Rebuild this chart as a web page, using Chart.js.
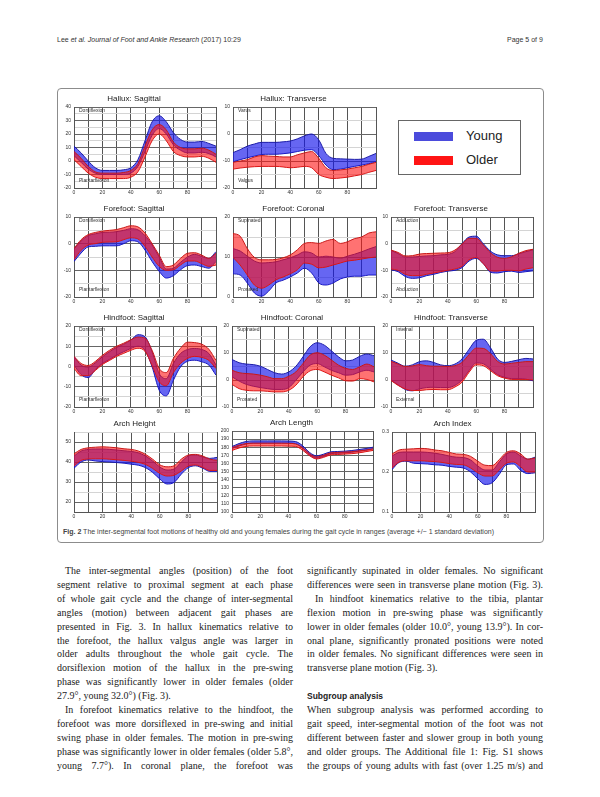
<!DOCTYPE html>
<html>
<head>
<meta charset="utf-8">
<script src="https://cdn.jsdelivr.net/npm/chart.js@4.4.1/dist/chart.umd.min.js"></script>
<style>
  body { margin: 0; background: #fff; }
  #page { position: relative; width: 600px; height: 797px; overflow: hidden; background: #fff; font-family: "Liberation Sans", Arial, sans-serif; }
  #page canvas { position: absolute; }
  .hdr { position: absolute; top: 36px; font-size: 7px; color: #333; white-space: nowrap; }
  .fig { position: absolute; left: 57px; top: 88px; width: 485px; height: 453px; border: 1px solid #8c8c8c; border-radius: 4px; }
  .cap { position: absolute; left: 63px; top: 528px; font-size: 7px; color: #444; white-space: nowrap; }
  .legend { position: absolute; left: 398px; top: 120px; width: 121px; height: 53px; border: 1px solid #666; background: #fff; }
  .sw { position: absolute; left: 15px; width: 39px; height: 9px; }
  .lt { position: absolute; left: 67px; font-size: 13px; color: #222; line-height: 14px; }
  .line { position: absolute; display: inline-block; height: 14px; line-height: 14px; font-family: "Liberation Serif", serif; font-size: 10px; color: #222; white-space: nowrap; }
  .head { position: absolute; font-family: "Liberation Sans", Arial, sans-serif; font-weight: bold; font-size: 8.5px; color: #222; white-space: nowrap; }
</style>
</head>
<body>
<div id="page">
  <div class="hdr" style="left:57px">Lee <i>et al. Journal of Foot and Ankle Research</i> (2017) 10:29</div>
  <div class="hdr" style="left:507px">Page 5 of 9</div>
  <div class="fig"></div>
  <div class="cap"><b>Fig. 2</b> The inter-segmental foot motions of healthy old and young females during the gait cycle in ranges (average +/− 1 standard deviation)</div>
  <div class="legend">
    <div class="sw" style="top:11px;background:#4b4bdc"></div>
    <div class="lt" style="top:8px">Young</div>
    <div class="sw" style="top:35px;background:#ff1414"></div>
    <div class="lt" style="top:32px">Older</div>
  </div>
</div>
<script>
// gait cycle (%)
const gaitPct = [0, 5, 10, 15, 20, 25, 30, 35, 40, 45, 50, 55, 60, 65, 70, 75, 80, 85, 90, 95, 100];

// Hallux: Sagittal
const halluxSagYoungHi = [11, 6, 0, -5, -7, -7, -7, -6.5, -5, 1, 15, 29, 33.5, 29, 21, 16, 14, 14, 14.5, 13, 11];
const halluxSagYoungLo = [4, -1, -6, -9, -10, -10, -10, -10, -9, -4, 7, 19, 24, 20, 12, 8, 6, 6, 6.5, 5.5, 3];
const halluxSagOlderHi = [7, 2, -4, -8, -9, -9, -9, -8.5, -7, -2, 11, 23, 27, 23, 14, 10, 9, 9, 9.5, 8, 5];
const halluxSagOlderLo = [1, -4, -9, -12, -13, -13, -13, -13, -12, -8, 3, 15, 20, 15, 7, 4, 3, 3, 3.5, 2, -1];

// Hallux: Transverse
const halluxTrnYoungHi = [-6.9, -5.8, -4.5, -3.7, -3.1, -3.1, -3.1, -2.9, -2.6, -1.8, -0.7, 0, -2.2, -7.2, -9, -9.2, -9.3, -9.4, -9.3, -8.3, -7.2];
const halluxTrnYoungLo = [-10.3, -9.5, -8.8, -8.2, -7.6, -7.5, -7.5, -7.3, -7, -6.5, -6, -5.8, -8, -11.5, -13.2, -13, -12.5, -12, -11.5, -11, -10.2];
const halluxTrnOlderHi = [-10.5, -10, -9.5, -8.5, -8, -8.2, -8.3, -8.5, -8.5, -7.7, -7, -6.5, -9, -12.5, -13.5, -13.3, -13, -12.5, -12, -11.2, -10.5];
const halluxTrnOlderLo = [-13, -12.6, -12.3, -12.1, -12, -12, -12, -12.2, -12.5, -12.3, -12, -12.5, -15, -16, -16.5, -16.3, -16, -15.5, -15, -14.2, -13.5];

// Forefoot: Sagittal
const foreSagYoungHi = [-2, 1, 3, 3.7, 4.2, 4.3, 4.5, 5, 5.6, 5.2, 3, -0.5, -5, -9.5, -9.2, -7, -5, -4, -4.8, -5.5, -3];
const foreSagYoungLo = [-6.7, -3.5, -1.2, -1, -0.8, -0.8, -0.8, 0, 1.1, 0.7, -2.4, -6.7, -10.4, -12.9, -12, -9.8, -8.2, -8, -8.6, -9.2, -6.7];
const foreSagOlderHi = [-1.8, 1.5, 3.4, 4.2, 4.7, 5, 5.3, 6, 6.7, 6.3, 4, 0, -4.3, -8.6, -8, -5.5, -3.6, -3.4, -4.3, -5.5, -3.6];
const foreSagOlderLo = [-6, -2.5, -0.5, 0, 0.5, 0.6, 0.7, 1.5, 2.2, 1.8, -1, -5, -8.5, -10, -9.8, -8, -6.5, -6.5, -7.5, -8.5, -8];

// Forefoot: Coronal
const foreCorYoungHi = [12.1, 11.5, 10.2, 9, 8.5, 8.6, 8.8, 9.3, 9.8, 10.5, 11.3, 11, 10, 10.2, 10, 9.7, 10.2, 10.7, 11.3, 12, 12.6];
const foreCorYoungLo = [5.8, 5.5, 3.5, 1, 0.2, 1.5, 3.5, 4.2, 5, 6, 7.2, 6, 3.5, 3, 3.5, 4.5, 5, 5.2, 5.2, 5.5, 5.5];
const foreCorOlderHi = [15.9, 15.2, 12.1, 9.9, 9.3, 9.3, 9.4, 9.8, 10.5, 11.8, 13.4, 13.6, 13.4, 14, 14.4, 13.4, 13.8, 14.6, 15, 16, 16.3];
const foreCorOlderLo = [9.9, 8, 5.5, 3, 2.2, 3, 4.3, 5, 5.8, 6.8, 8.5, 8.2, 7.3, 7.5, 8, 8.5, 9, 9.2, 9.5, 9.8, 10];

// Forefoot: Transverse
const foreTrnYoungHi = [-2.5, -3.7, -5, -5, -4.8, -4.6, -4.5, -4.2, -4, -3, 0, 2.5, 2.8, 0, -2.8, -4.2, -4.5, -4.5, -3.8, -3, -2.3];
const foreTrnYoungLo = [-9.8, -10.5, -12.3, -13, -12.8, -12, -11.5, -10.8, -10.3, -10, -9, -6.5, -5.5, -7.5, -10.7, -11, -10.5, -10.3, -10.8, -10.5, -10.2];
const foreTrnOlderHi = [-2.4, -3.3, -4.6, -4.5, -3.9, -3.7, -3.6, -3.5, -3.4, -2.4, -0.2, 2, 2, -0.5, -3.4, -5.1, -5.5, -4.9, -3.6, -2.6, -2.1];
const foreTrnOlderLo = [-9.5, -10, -11.5, -12, -12, -11.5, -11, -10.5, -10, -9.5, -8.5, -6, -5.2, -7.5, -10.2, -10.3, -10, -10, -10.2, -9.5, -9];

// Hindfoot: Sagittal
const hindSagYoungHi = [4.8, 0.7, -0.3, 1.8, 4.8, 7.3, 9.4, 11, 13, 15.7, 14.7, 7.3, -3.5, -6, 1.5, 6.4, 8.4, 8.9, 8.4, 6.4, 0.7];
const hindSagYoungLo = [0.7, -4, -5.5, -1.5, 1.5, 3.5, 5.6, 7.3, 8.9, 10, 8, -0.2, -11.7, -14.5, -6.8, -0.2, 2.6, 3.1, 2.3, 0.7, -4.3];
const hindSagOlderHi = [5, 1.5, 0.5, 2.5, 5.5, 8, 10, 11.5, 13.2, 14.5, 14, 8, -1, -3, 4, 9, 12, 11.8, 11, 8.5, 3];
const hindSagOlderLo = [-1, -4.5, -4.5, -2, 1, 3, 5, 6.5, 8, 9, 7.5, 0.5, -7.5, -9.5, -3, 1.5, 4, 5, 4.5, 3, -1];

// Hindfoot: Coronal
const hindCorYoungHi = [7.6, 6.4, 5.9, 5.7, 5.1, 3.9, 2.7, 2.2, 3, 5.1, 8.6, 12.3, 13.8, 12.9, 10.8, 8.6, 7.1, 7.4, 8.8, 9.6, 9];
const hindCorYoungLo = [1.2, -0.4, -1.6, -2.3, -2.8, -3.2, -3.5, -3.5, -2.8, -0.1, 3, 5.5, 6.1, 4.9, 3.6, 2.7, 1.8, 2, 3, 3.6, 3];
const hindCorOlderHi = [3.6, 2.7, 2.4, 2.2, 1.8, 1.2, 0.5, 0.5, 1.4, 3, 6.1, 9.2, 10.1, 9.2, 7.4, 5.5, 4.3, 3.9, 4.9, 5.9, 4.9];
const hindCorOlderLo = [-1.6, -3.2, -3.8, -4, -4, -4.2, -4.4, -4.4, -3.8, -1.9, 1.2, 3.4, 3.9, 3, 1.8, 0.8, -0.3, -0.4, 0.5, 0.2, -0.7];

// Hindfoot: Transverse
const hindTrnYoungHi = [7.4, 6.2, 5.1, 5.6, 6.8, 7.1, 6.5, 5.6, 5.3, 5.9, 7.8, 11.4, 14.7, 15.1, 12, 7.8, 6.5, 6.9, 7.5, 8, 7.8];
const hindTrnYoungLo = [0, -1.8, -3.5, -4, -3.3, -2.8, -2.7, -2.8, -2.8, -2, 0, 3.5, 6.3, 6, 4, 2, 1, 0.5, 0.5, 0.3, -0.3];
const hindTrnOlderHi = [6.9, 5.9, 5, 5.2, 5.7, 5.3, 5.1, 5.1, 5, 5.3, 6.5, 9.4, 11.8, 11.7, 9.8, 6.9, 5.9, 6.2, 6.5, 6.8, 6.8];
const hindTrnOlderLo = [-0.2, -2, -3.3, -3.9, -3.9, -3.6, -3.5, -3.6, -3.6, -2.6, -0.8, 2.9, 5.6, 5.3, 3.5, 1.6, 0.7, 0.2, 0.2, 0.2, 0];

// Arch Height
const archHgtYoungHi = [43, 45.5, 46.3, 46.5, 46.5, 46.3, 46, 45.6, 45.3, 44.6, 43, 40.5, 37.5, 36, 36.5, 40, 43, 43.5, 42.5, 41.8, 42.3];
const archHgtYoungLo = [36.9, 40, 41, 40.5, 40.2, 40, 39.7, 39.4, 38.9, 38.4, 37.2, 34.8, 31.5, 29, 29.8, 33.9, 37.2, 38.1, 36.9, 35.3, 35.3];
const archHgtOlderHi = [44.1, 46.3, 47.1, 47.4, 47.6, 47.4, 47.1, 46.6, 46.3, 45.5, 43.8, 41.4, 38.6, 37.6, 38.1, 41.4, 43.5, 43.8, 43, 41.4, 40.9];
const archHgtOlderLo = [38, 40.8, 41.5, 41.6, 41.6, 41.4, 41.1, 40.8, 40.4, 39.8, 38.8, 36.8, 34.3, 33, 33.4, 35.5, 38, 38.5, 37.3, 35.8, 35.8];

// Arch Length
const archLenYoungHi = [180.8, 184.5, 187, 187.8, 187.8, 187.8, 187.8, 187.8, 187.6, 187, 182, 173.5, 169.4, 171.4, 174.3, 174.7, 175.1, 175.9, 177.1, 178.4, 180];
const archLenYoungLo = [178.5, 181.5, 184, 185, 185, 185, 185, 185, 185, 184.5, 179, 170.5, 166.5, 168.5, 172, 172.5, 173, 173.8, 175, 176.3, 178];
const archLenOlderHi = [179.5, 182.5, 184.5, 185, 185, 185, 185, 185, 184.8, 184, 179.5, 172, 168, 170, 173, 173.5, 174, 174.5, 175.5, 176.5, 178];
const archLenOlderLo = [176, 179, 181, 181.5, 181.5, 181.5, 181.5, 181.5, 181.3, 181, 176.5, 169.5, 165.5, 167.5, 170.5, 171, 171.5, 172, 173, 174.5, 176];

// Arch Index
const archIdxYoungHi = [0.24, 0.249, 0.25, 0.25, 0.25, 0.249, 0.247, 0.244, 0.24, 0.237, 0.236, 0.23, 0.215, 0.205, 0.205, 0.225, 0.245, 0.25, 0.24, 0.232, 0.237];
const archIdxYoungLo = [0.206, 0.224, 0.227, 0.222, 0.221, 0.22, 0.218, 0.217, 0.214, 0.212, 0.21, 0.2, 0.183, 0.169, 0.173, 0.194, 0.218, 0.22, 0.204, 0.196, 0.198];
const archIdxOlderHi = [0.245, 0.255, 0.257, 0.258, 0.259, 0.258, 0.255, 0.253, 0.249, 0.245, 0.244, 0.239, 0.227, 0.217, 0.216, 0.231, 0.249, 0.253, 0.245, 0.232, 0.235];
const archIdxOlderLo = [0.21, 0.225, 0.228, 0.228, 0.228, 0.227, 0.226, 0.224, 0.221, 0.219, 0.218, 0.21, 0.198, 0.19, 0.19, 0.205, 0.222, 0.225, 0.213, 0.2, 0.2];

const youngFill = 'rgba(20,20,235,0.65)';
const youngLine = '#1c1ca8';
const olderFill = 'rgba(255,20,20,0.6)';
const olderLine = '#c81818';

// plot area of every panel: [left, top, right, bottom]
const panels = [
  { title: 'Hallux: Sagittal', y: [halluxSagYoungHi, halluxSagYoungLo, halluxSagOlderHi, halluxSagOlderLo], min: -20, max: 40, major: 10, minor: 5, hi: 'Dorsiflexion', lo: 'Plantarflexion', box: [74, 107, 216, 188] },
  { title: 'Hallux: Transverse', y: [halluxTrnYoungHi, halluxTrnYoungLo, halluxTrnOlderHi, halluxTrnOlderLo], min: -20, max: 10, major: 10, minor: 5, hi: 'Varus', lo: 'Valgus', box: [233, 107, 376, 188] },
  { title: 'Forefoot: Sagittal', y: [foreSagYoungHi, foreSagYoungLo, foreSagOlderHi, foreSagOlderLo], min: -20, max: 10, major: 10, minor: 5, hi: 'Dorsiflexion', lo: 'Plantarflexion', box: [74, 217, 216, 297] },
  { title: 'Forefoot: Coronal', y: [foreCorYoungHi, foreCorYoungLo, foreCorOlderHi, foreCorOlderLo], min: 0, max: 20, major: 10, minor: 5, hi: 'Supinated', lo: 'Pronated', box: [233, 217, 376, 297] },
  { title: 'Forefoot: Transverse', y: [foreTrnYoungHi, foreTrnYoungLo, foreTrnOlderHi, foreTrnOlderLo], min: -20, max: 10, major: 10, minor: 5, hi: 'Adduction', lo: 'Abduction', box: [391, 217, 533, 297] },
  { title: 'Hindfoot: Sagittal', y: [hindSagYoungHi, hindSagYoungLo, hindSagOlderHi, hindSagOlderLo], min: -20, max: 20, major: 10, minor: 5, hi: 'Dorsiflexion', lo: 'Plantarflexion', box: [74, 326, 216, 407] },
  { title: 'Hindfoot: Coronal', y: [hindCorYoungHi, hindCorYoungLo, hindCorOlderHi, hindCorOlderLo], min: -10, max: 20, major: 10, minor: 5, hi: 'Supinated', lo: 'Pronated', box: [232, 326, 374, 407] },
  { title: 'Hindfoot: Transverse', y: [hindTrnYoungHi, hindTrnYoungLo, hindTrnOlderHi, hindTrnOlderLo], min: -10, max: 20, major: 10, minor: 5, hi: 'Internal', lo: 'External', box: [391, 326, 533, 407] },
  { title: 'Arch Height', y: [archHgtYoungHi, archHgtYoungLo, archHgtOlderHi, archHgtOlderLo], min: 15, max: 55, major: 10, minor: 5, box: [74, 432, 217, 512] },
  { title: 'Arch Length', y: [archLenYoungHi, archLenYoungLo, archLenOlderHi, archLenOlderLo], min: 100, max: 200, major: 10, minor: 10, box: [232, 431, 373, 512] },
  { title: 'Arch Index', y: [archIdxYoungHi, archIdxYoungLo, archIdxOlderHi, archIdxOlderLo], min: 0.1, max: 0.3, major: 0.1, minor: 0.05, box: [392, 432, 535, 512] }
];

// small direction labels inside the plot (Dorsiflexion / Plantarflexion ...)
const sideLabels = {
  id: 'sideLabels',
  afterDatasetsDraw(chart, args, opts) {
    if (!opts.hi) return;
    const { left, top, bottom } = chart.chartArea;
    const ctx = chart.ctx;
    ctx.save();
    ctx.font = '5px "Liberation Sans", Arial, sans-serif';
    ctx.fillStyle = '#333';
    ctx.textBaseline = 'middle';
    ctx.fillText(opts.hi, left + 5, top + 4);
    ctx.fillText(opts.lo, left + 5, bottom - 7);
    ctx.restore();
  }
};

const page = document.getElementById('page');
const toPts = arr => gaitPct.map((x, i) => ({ x: x, y: arr[i] }));

panels.forEach(p => {
  const [L, T, R, B] = p.box;
  const padL = 22, padT = 15, padR = 6, padB = 10;
  const w = (R - L) + padL + padR, h = (B - T) + padT + padB;
  const cv = document.createElement('canvas');
  cv.width = w; cv.height = h;
  cv.style.left = (L - padL) + 'px';
  cv.style.top = (T - padT) + 'px';
  cv.style.width = w + 'px';
  cv.style.height = h + 'px';
  page.appendChild(cv);

  const isMajor = v => Math.abs(v / p.major - Math.round(v / p.major)) < 1e-6;
  const line = { pointRadius: 0, borderWidth: 1, cubicInterpolationMode: 'monotone' };

  new Chart(cv, {
    type: 'line',
    data: {
      datasets: [
        Object.assign({ data: toPts(p.y[2]), borderColor: olderLine, backgroundColor: olderFill, fill: '+1', order: 1 }, line),
        Object.assign({ data: toPts(p.y[3]), borderColor: olderLine, fill: false, order: 1 }, line),
        Object.assign({ data: toPts(p.y[0]), borderColor: youngLine, backgroundColor: youngFill, fill: '+1', order: 2 }, line),
        Object.assign({ data: toPts(p.y[1]), borderColor: youngLine, fill: false, order: 2 }, line)
      ]
    },
    options: {
      responsive: false,
      animation: false,
      devicePixelRatio: 1,
      layout: { padding: { left: 0, right: padR, top: 0, bottom: 0 } },
      plugins: {
        legend: { display: false },
        tooltip: { enabled: false },
        title: {
          display: true, text: p.title, color: '#222',
          font: { family: '"Liberation Sans", Arial, sans-serif', size: 8, weight: 'normal', lineHeight: 1.25 },
          padding: { top: 2, bottom: 3 }
        },
        sideLabels: { hi: p.hi, lo: p.lo }
      },
      scales: {
        x: {
          type: 'linear', min: 0, max: 100,
          afterFit: s => { s.height = padB; },
          border: { color: '#555' },
          grid: { color: '#555', drawTicks: false },
          ticks: {
            stepSize: 10, autoSkip: false, maxRotation: 0, padding: 2, color: '#333',
            font: { family: '"Liberation Sans", Arial, sans-serif', size: 5 },
            callback: v => (v % 20 === 0 && v < 100) ? v : ''
          }
        },
        y: {
          min: p.min, max: p.max,
          afterFit: s => { s.width = padL; },
          border: { color: '#555' },
          grid: { color: c => isMajor(c.tick.value) ? '#666' : '#d4d4d4', drawTicks: false },
          ticks: {
            stepSize: p.minor, autoSkip: false, padding: 3, color: '#333',
            font: { family: '"Liberation Sans", Arial, sans-serif', size: 5 },
            callback: v => isMajor(v) ? String(Number(v.toFixed(2))) : ''
          }
        }
      }
    },
    plugins: [sideLabels]
  });
});

// body text, one div per printed line
const leftLines = [
  ['The inter-segmental angles (position) of the foot', 1, 1],
  ['segment relative to proximal segment at each phase', 0, 1],
  ['of whole gait cycle and the change of inter-segmental', 0, 1],
  ['angles (motion) between adjacent gait phases are', 0, 1],
  ['presented in Fig. 3. In hallux kinematics relative to', 0, 1],
  ['the forefoot, the hallux valgus angle was larger in', 0, 1],
  ['older adults throughout the whole gait cycle. The', 0, 1],
  ['dorsiflexion motion of the hallux in the pre-swing', 0, 1],
  ['phase was significantly lower in older females (older', 0, 1],
  ['27.9°, young 32.0°) (Fig. 3).', 0, 0],
  ['In forefoot kinematics relative to the hindfoot, the', 1, 1],
  ['forefoot was more dorsiflexed in pre-swing and initial', 0, 1],
  ['swing phase in older females. The motion in pre-swing', 0, 1],
  ['phase was significantly lower in older females (older 5.8°,', 0, 1],
  ['young 7.7°). In coronal plane, the forefoot was', 0, 1]
];
const rightLines = [
  ['significantly supinated in older females. No significant', 0, 1],
  ['differences were seen in transverse plane motion (Fig. 3).', 0, 1],
  ['In hindfoot kinematics relative to the tibia, plantar', 1, 1],
  ['flexion motion in pre-swing phase was significantly', 0, 1],
  ['lower in older females (older 10.0°, young 13.9°). In cor-', 0, 1],
  ['onal plane, significantly pronated positions were noted', 0, 1],
  ['in older females. No significant differences were seen in', 0, 1],
  ['transverse plane motion (Fig. 3).', 0, 0],
  null,
  null,
  ['When subgroup analysis was performed according to', 0, 1],
  ['gait speed, inter-segmental motion of the foot was not', 0, 1],
  ['different between faster and slower group in both young', 0, 1],
  ['and older groups. The Additional file 1: Fig. S1 shows', 0, 1],
  ['the groups of young adults with fast (over 1.25 m/s) and', 0, 1]
];

function placeLines(lines, x0) {
  lines.forEach((ln, i) => {
    if (!ln) return;
    const [txt, indent, just] = ln;
    const d = document.createElement('div');
    d.className = 'line';
    d.textContent = txt;
    const ind = indent ? 8 : 0;
    d.style.left = (x0 + ind) + 'px';
    d.style.top = (564 + i * 13.9) + 'px';
    page.appendChild(d);
    const target = 236 - ind;
    const natural = d.getBoundingClientRect().width;
    const spaces = (txt.match(/ /g) || []).length;
    if (natural > target) {
      d.style.letterSpacing = ((target - natural) / txt.length) + 'px';
    } else if (just && spaces) {
      d.style.wordSpacing = ((target - natural) / spaces) + 'px';
    }
  });
}
placeLines(leftLines, 57);
placeLines(rightLines, 307);

const head = document.createElement('div');
head.className = 'head';
head.textContent = 'Subgroup analysis';
head.style.left = '307px';
head.style.top = (564 + 9 * 13.9 + 2) + 'px';
page.appendChild(head);
</script>
</body>
</html>
